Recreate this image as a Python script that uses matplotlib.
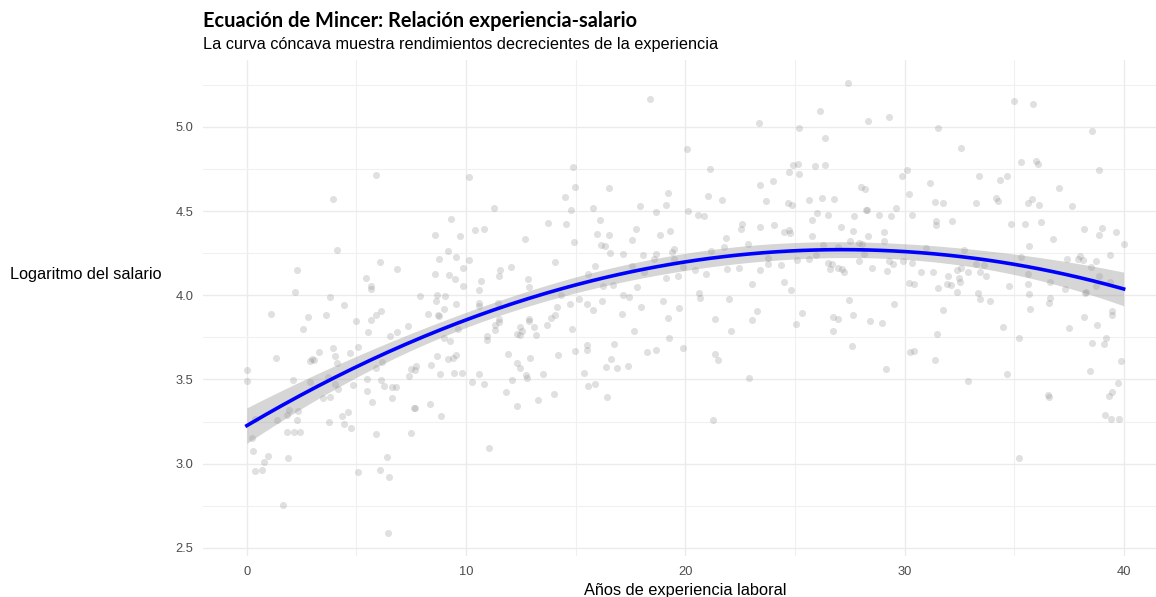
import numpy as np
import matplotlib
matplotlib.use("Agg")
import matplotlib.pyplot as plt

# points (years of experience, log wage)
exper_a = [5.87, 3.94, 4.09, 6.08, 6.86, 2.30, 5.44, 5.68, 5.68, 2.19, 3.79, 4.42, 1.09, 2.80, 3.62, 6.10, 5.87,
           4.97, 5.66, 2.58, 5.53, 6.55, 6.87, 7.33, 3.95, 3.28, 5.08, 4.70, 4.01, 1.32, 2.96, 2.86, 3.06, 4.12,
           0.00, 0.00, 2.10, 2.86, 3.71, 4.01, 4.17, 4.85, 5.47, 5.47, 5.87, 6.16, 6.14, 6.25, 6.60, 6.81, 6.60,
           5.73, 7.39, 7.47, 7.62, 3.47, 3.79, 1.93, 1.81, 2.33, 2.30, 1.37, 0.36, 3.74, 4.32, 4.62, 4.42, 4.76,
           1.81, 2.16, 2.42, 5.87, 7.48, 0.23, 0.30, 0.96, 0.78, 1.88, 0.35, 0.68, 6.40, 6.07, 5.08, 6.49, 1.66, 6.43]
lwage_a = [4.716, 4.574, 4.267, 4.200, 4.158, 4.150, 4.100, 4.053, 4.037, 4.020, 3.990, 3.944, 3.887, 3.873, 3.882, 3.908, 3.880,
           3.845, 3.851, 3.800, 3.780, 3.758, 3.780, 3.820, 3.685, 3.665, 3.693, 3.655, 3.637, 3.625, 3.620, 3.610, 3.615, 3.597,
           3.558, 3.489, 3.495, 3.487, 3.514, 3.475, 3.441, 3.467, 3.500, 3.431, 3.568, 3.604, 3.499, 3.463, 3.457, 3.457, 3.390,
           3.364, 3.520, 3.560, 3.330, 3.393, 3.396, 3.317, 3.289, 3.311, 3.261, 3.261, 3.267, 3.249, 3.283, 3.306, 3.237, 3.210,
           3.190, 3.190, 3.190, 3.178, 3.184, 3.152, 3.077, 3.047, 3.008, 3.036, 2.956, 2.960, 3.037, 2.960, 2.948, 2.920, 2.754, 2.586]

exper_b = [14.87, 14.97, 14.52, 14.78, 10.11, 11.27, 9.31, 10.41, 10.81, 8.59, 9.73, 13.73, 14.55, 12.67, 14.90, 9.17,
           8.77, 9.53, 10.11, 9.85, 14.06, 12.04, 11.54, 11.49, 8.59, 9.23, 9.49, 10.69, 9.84, 10.61, 12.82, 12.85,
           7.90, 8.67, 9.02, 8.63, 9.56, 8.98, 8.24, 8.70, 8.75, 10.58, 10.58, 11.45, 15.57, 14.31, 14.14, 14.73,
           15.17, 15.51, 14.06, 13.88, 12.85, 11.51,
           9.62, 8.97, 9.25, 8.68, 9.18, 9.38, 9.55, 8.41, 7.72, 7.68, 8.83, 9.44, 9.81, 10.28, 10.58, 10.81,
           7.68, 8.35, 8.86, 11.04, 11.30, 11.30, 11.52, 10.96, 10.96, 11.90, 12.30, 12.45, 12.91, 12.71, 12.79,
           12.10, 11.83, 12.30, 13.29, 13.53, 13.99, 14.17, 12.32, 12.48, 12.48, 12.56, 12.86, 13.11, 13.18,
           13.70, 14.81, 14.97, 15.51, 15.51, 15.36, 15.58]
lwage_b = [4.761, 4.643, 4.581, 4.506, 4.702, 4.516, 4.455, 4.390, 4.393, 4.356, 4.354, 4.427, 4.425, 4.334, 4.314, 4.260,
           4.215, 4.227, 4.211, 4.162, 4.197, 4.170, 4.148, 4.116, 4.128, 4.122, 4.094, 4.083, 4.057, 4.033, 4.094, 4.047,
           3.995, 4.000, 3.993, 3.964, 3.948, 3.916, 3.887, 3.880, 3.875, 3.956, 3.934, 3.952, 4.128, 4.003, 3.928, 3.948,
           3.980, 3.948, 3.880, 3.865, 3.860, 3.860,
           3.797, 3.746, 3.730, 3.641, 3.623, 3.627, 3.643, 3.587, 3.580, 3.554, 3.534, 3.538, 3.538, 3.483, 3.532, 3.471,
           3.330, 3.354, 3.285, 3.093, 3.821, 3.791, 3.839, 3.756, 3.734, 3.653, 3.597, 3.570, 3.630, 3.528, 3.508,
           3.496, 3.423, 3.340, 3.380, 3.534, 3.411, 3.643, 3.768, 3.766, 3.811, 3.790, 3.849, 3.809, 3.766,
           3.821, 3.797, 3.669, 3.702, 3.677, 3.540, 3.461]

exper_c = [18.38, 23.35, 20.08, 21.12, 16.54, 23.40, 23.69, 19.22, 19.11, 17.92, 18.65, 21.04, 21.68, 15.81, 16.10,
           20.11, 20.58, 20.84, 22.58, 22.53, 23.41, 15.96, 16.51, 17.77, 19.31, 18.84, 17.56, 16.15, 16.33, 16.57,
           17.15, 21.86, 21.76, 22.86, 21.19, 19.49, 19.40, 18.08, 18.64, 18.58, 15.87, 17.57, 18.11, 19.46, 19.90,
           20.45, 20.95, 21.89, 22.43, 23.40, 23.76, 19.12, 19.67, 23.05, 16.25, 16.69, 17.79, 17.14, 17.44, 20.60,
           20.65, 16.18, 17.98, 19.00, 19.69, 21.97, 15.80, 17.09, 23.26, 19.22, 21.35, 23.05,
           17.68, 22.06, 16.74, 19.25, 18.26, 18.64, 19.90, 16.59, 16.37, 16.88, 17.39, 21.35, 21.51, 22.92,
           15.86, 16.42, 21.24]
lwage_c = [5.167, 5.023, 4.868, 4.750, 4.637, 4.657, 4.560, 4.605, 4.536, 4.530, 4.496, 4.589, 4.568, 4.516, 4.447,
           4.498, 4.476, 4.468, 4.425, 4.395, 4.403, 4.363, 4.356, 4.395, 4.383, 4.358, 4.326, 4.298, 4.290, 4.249,
           4.245, 4.338, 4.284, 4.306, 4.265, 4.273, 4.255, 4.241, 4.243, 4.217, 4.174, 4.176, 4.138, 4.217, 4.168,
           4.152, 4.124, 4.156, 4.162, 4.148, 4.183, 4.100, 4.116, 4.065, 4.053, 4.059, 4.047, 4.001, 3.989, 4.015,
           3.986, 3.964, 3.930, 3.968, 3.922, 3.976, 3.915, 3.888, 3.904, 3.865, 3.861, 3.851,
           3.787, 3.790, 3.713, 3.746, 3.661, 3.675, 3.689, 3.623, 3.572, 3.568, 3.578, 3.649, 3.615, 3.511,
           3.473, 3.398, 3.257]

exper_d = [27.44, 26.12, 28.34, 29.27, 25.19, 31.52, 26.36, 24.93, 25.16, 25.92, 26.39, 24.72, 25.19, 23.99, 29.86,
           30.13, 31.17, 28.03, 28.19, 30.18, 24.68, 24.87, 25.62, 26.23, 26.80, 31.38, 31.76, 28.23, 28.30, 29.62,
           25.99, 26.50, 25.77, 27.70, 28.83, 29.40, 30.35, 31.44, 31.44, 24.05, 24.71, 24.50, 24.77, 27.11, 27.64,
           29.07, 25.76, 28.34, 27.52, 27.93, 28.07, 29.05, 26.29, 26.94, 30.99, 25.94, 28.15, 23.76, 25.09, 25.65,
           27.90, 29.28, 29.49, 29.91, 24.34, 26.49, 26.71, 26.59, 26.94, 27.14, 27.23, 28.52, 29.18, 30.35, 30.76,
           31.29, 24.51, 24.80, 30.18, 30.42, 31.52, 27.46, 29.51, 25.31, 26.74, 26.94, 27.65, 31.76,
           25.05, 26.73, 28.42, 28.98, 27.59, 31.46, 30.23, 30.45, 31.37, 29.14]
lwage_d = [5.262, 5.094, 5.037, 5.056, 4.993, 4.993, 4.936, 4.771, 4.777, 4.765, 4.773, 4.732, 4.718, 4.676, 4.708,
           4.746, 4.665, 4.643, 4.633, 4.602, 4.548, 4.534, 4.564, 4.580, 4.571, 4.556, 4.550, 4.504, 4.505, 4.516,
           4.486, 4.476, 4.447, 4.468, 4.474, 4.468, 4.474, 4.441, 4.417, 4.419, 4.390, 4.374, 4.369, 4.405, 4.383,
           4.375, 4.350, 4.354, 4.322, 4.312, 4.306, 4.322, 4.298, 4.288, 4.280, 4.241, 4.243, 4.223, 4.211, 4.215,
           4.201, 4.201, 4.183, 4.201, 4.177, 4.189, 4.183, 4.156, 4.162, 4.156, 4.136, 4.160, 4.142, 4.189, 4.138,
           4.136, 4.078, 4.033, 4.073, 4.065, 4.043, 3.974, 3.946, 3.894, 3.873, 3.861, 3.880, 3.910,
           3.827, 3.790, 3.845, 3.834, 3.700, 3.770, 3.661, 3.669, 3.617, 3.560]

exper_e = [34.98, 35.86, 38.55, 32.57, 35.29, 36.00, 36.09, 38.87, 33.39, 34.33, 34.66, 37.04, 33.26, 34.16, 34.28,
           35.62, 35.80, 36.11, 37.63, 32.14, 34.85, 35.47, 36.21, 38.19, 38.99, 38.86, 39.65, 36.76, 39.99, 35.68,
           32.70, 35.32, 37.41, 37.90, 38.02, 38.14, 38.71, 39.37, 38.49, 32.41, 32.59, 32.87, 33.27, 33.43, 33.60,
           31.96, 32.47, 32.51, 33.71, 35.64, 31.94, 32.11, 34.74, 35.61, 36.61, 37.31, 38.86, 39.35, 38.71, 32.41,
           33.35, 33.42, 33.90, 35.67, 36.61, 36.58, 38.24, 38.28, 35.73, 38.19, 39.45, 39.45,
           34.51, 37.49, 38.78, 35.22, 38.54, 39.10, 39.19, 39.88, 38.45, 34.66, 32.89, 39.73, 39.47, 39.30,
           36.55, 36.58, 39.13, 39.41, 39.77, 35.22]
lwage_e = [5.153, 5.134, 4.977, 4.872, 4.789, 4.795, 4.779, 4.746, 4.710, 4.684, 4.706, 4.637, 4.550, 4.577, 4.559,
           4.546, 4.569, 4.538, 4.530, 4.439, 4.425, 4.423, 4.433, 4.393, 4.399, 4.356, 4.374, 4.336, 4.306, 4.294,
           4.268, 4.225, 4.215, 4.213, 4.233, 4.211, 4.203, 4.239, 4.170, 4.150, 4.162, 4.138, 4.185, 4.138, 4.177,
           4.114, 4.104, 4.081, 4.112, 4.126, 4.069, 4.059, 4.055, 4.067, 4.078, 4.039, 4.116, 4.078, 4.055, 4.019,
           4.011, 3.977, 3.964, 4.010, 3.983, 3.952, 4.015, 4.020, 3.920, 3.873, 3.904, 3.882,
           3.811, 3.805, 3.825, 3.744, 3.719, 3.713, 3.748, 3.611, 3.550, 3.532, 3.491, 3.477, 3.427, 3.404,
           3.410, 3.396, 3.289, 3.263, 3.265, 3.033]

x_ticks = [0, 10, 20, 30, 40]
y_ticks = [2.5, 3.0, 3.5, 4.0, 4.5, 5.0]

exper = np.array(exper_a + exper_b + exper_c + exper_d + exper_e)
lwage = np.array(lwage_a + lwage_b + lwage_c + lwage_d + lwage_e)

# quadratic fit (like geom_smooth(method="lm", formula=y ~ x + I(x^2)))
X = np.column_stack([np.ones_like(exper), exper, exper ** 2])
beta, res, rank, sv = np.linalg.lstsq(X, lwage, rcond=None)
n = len(lwage)
sigma2 = np.sum((lwage - X @ beta) ** 2) / (n - 3)
cov = sigma2 * np.linalg.inv(X.T @ X)
xs = np.linspace(exper.min(), exper.max(), 200)
Xs = np.column_stack([np.ones_like(xs), xs, xs ** 2])
fit = Xs @ beta
se = np.sqrt(np.einsum("ij,jk,ik->i", Xs, cov, Xs))
lo, hi = fit - 1.965 * se, fit + 1.965 * se

plt.rcParams['font.family'] = ['Liberation Sans', 'DejaVu Sans']

fig = plt.figure(figsize=(11.56, 5.97), dpi=100)
# panel: x -2..42 from px 203 to 1168 (cut by the right edge), y from px 556 up to 60
ax = fig.add_axes([203 / 1156, 41 / 597, 964.7 / 1156, 496 / 597])

ax.scatter(exper, lwage, s=26, color='#808080', alpha=0.24, linewidths=0, zorder=2)
ax.fill_between(xs, lo, hi, color='#999999', alpha=0.4, linewidth=0, zorder=3)
ax.plot(xs, fit, color='#0000ff', linewidth=2.6, zorder=4)

ax.set_xlim(-2, 42)
ax.set_ylim(2.452, 5.397)
ax.set_xticks(x_ticks)
ax.set_xticks([5, 15, 25, 35], minor=True)
ax.set_yticks(y_ticks)
ax.set_yticks([2.75, 3.25, 3.75, 4.25, 4.75, 5.25], minor=True)
ax.set_yticklabels([f"{v:.1f}" for v in y_ticks])
ax.grid(which='major', color='#ebebeb', linewidth=1.0, zorder=0)
ax.grid(which='minor', color='#f0f0f0', linewidth=0.8, zorder=0)
ax.set_axisbelow(True)
for s in ax.spines.values():
    s.set_visible(False)
ax.tick_params(which='both', length=0, labelsize=9.3, labelcolor='#4d4d4d')
ax.tick_params(axis='y', pad=7)
ax.tick_params(axis='x', pad=7)

ax.set_xlabel('Años de experiencia laboral', fontsize=11.8, labelpad=4)
ax.set_ylabel('Logaritmo del salario', fontsize=11.7, rotation=0, ha='right', va='center')
ax.yaxis.set_label_coords((162 - 203) / 964.7, (556 - 275) / 496)

fig.text(203 / 1156, 1 - 27 / 597, 'Ecuación de Mincer: Relación experiencia-salario',
         fontsize=14.4, fontweight='bold', family=['Lato', 'DejaVu Sans'], va='baseline')
fig.text(203 / 1156, 1 - 49 / 597, 'La curva cóncava muestra rendimientos decrecientes de la experiencia',
         fontsize=11.7, va='baseline')

fig.savefig('out.png', dpi=100)
